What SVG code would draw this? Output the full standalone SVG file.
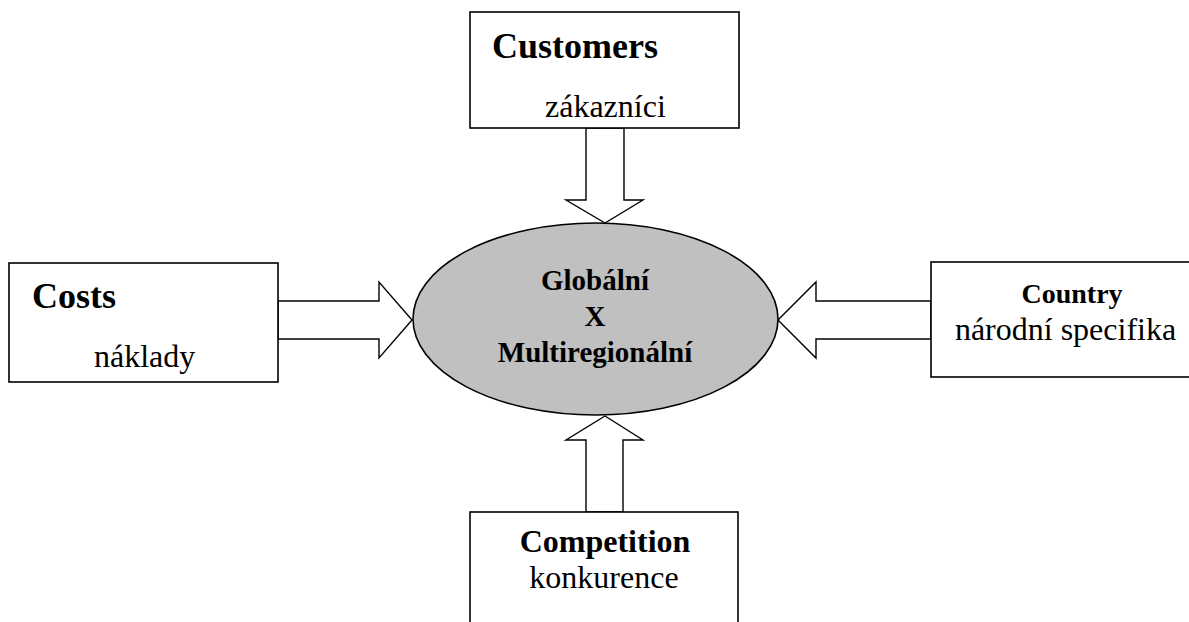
<svg xmlns="http://www.w3.org/2000/svg" width="1189" height="622" viewBox="0 0 1189 622">
<style>
.box{fill:#fff;stroke:#000;stroke-width:1.6}
.arr{fill:#fff;stroke:#000;stroke-width:1.4;stroke-linejoin:miter}
text{font-family:"Liberation Serif","Times New Roman",serif;fill:#000}
.b{font-weight:bold}
.r{font-size:32px}
</style>
<rect width="1189" height="622" fill="#fff"/>
<g id="connectors">
<polygon class="arr" points="586,128 624,128 624,200 643,200 605,223 566,200 586,200"/>
<polygon class="arr" points="278,301 379,301 379,282 412,320 379,358 379,339 278,339"/>
<polygon class="arr" points="931,301 816,301 816,282 778,320 816,358 816,339 931,339"/>
<polygon class="arr" points="586,512 586,440 566,440 605,416 643,440 623,440 623,512"/>
</g>
<g id="center">
<ellipse cx="595.5" cy="319" rx="182.5" ry="96" fill="#c0c0c0" stroke="#000" stroke-width="1.6"/>
<text class="b" x="595" y="290" font-size="29" text-anchor="middle">Globální</text>
<text class="b" x="595" y="326" font-size="29" text-anchor="middle">X</text>
<text class="b" x="595" y="362" font-size="29" text-anchor="middle">Multiregionální</text>
</g>
<g id="customers">
<rect class="box" x="470" y="12" width="269" height="116"/>
<text class="b" x="492" y="58" font-size="36">Customers</text>
<text class="r" x="545" y="117">zákazníci</text>
</g>
<g id="costs">
<rect class="box" x="9" y="263" width="269" height="119"/>
<text class="b" x="32" y="308" font-size="36">Costs</text>
<text class="r" x="94" y="367">náklady</text>
</g>
<g id="country">
<rect class="box" x="931" y="262" width="270" height="115"/>
<text class="b" x="1072" y="303" font-size="28" text-anchor="middle">Country</text>
<text class="r" x="1065.5" y="340" text-anchor="middle">národní specifika</text>
</g>
<g id="competition">
<rect class="box" x="470" y="512" width="268" height="130"/>
<text class="b" x="605" y="552" font-size="32" text-anchor="middle">Competition</text>
<text class="r" x="604" y="588" text-anchor="middle">konkurence</text>
</g>
</svg>
